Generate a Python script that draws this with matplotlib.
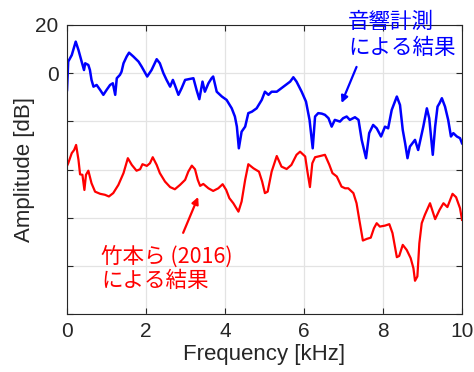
import matplotlib
matplotlib.use("Agg")
import matplotlib.pyplot as plt

plt.rcParams['font.family'] = ['Liberation Sans', 'DejaVu Sans']

# Blue: acoustic measurement result
blue_f = [0.0, 0.03, 0.12, 0.22, 0.29, 0.37, 0.43, 0.46, 0.54, 0.58, 0.62, 0.67, 0.75, 0.84, 0.92,
          1.0, 1.09, 1.16, 1.22, 1.26, 1.34, 1.38, 1.43, 1.51, 1.57, 1.68, 1.81, 1.89, 2.03, 2.14,
          2.27, 2.35, 2.44, 2.52, 2.61, 2.68, 2.73, 2.82, 2.90, 2.99, 3.11, 3.2, 3.28, 3.35, 3.43,
          3.49, 3.58, 3.66, 3.70, 3.79, 3.92, 4.04, 4.17, 4.25, 4.30, 4.35, 4.42, 4.51, 4.59, 4.68,
          4.80, 4.93, 5.01, 5.10, 5.18, 5.31, 5.48, 5.65, 5.73, 5.81, 5.94, 6.05, 6.14, 6.22, 6.28,
          6.36, 6.45, 6.53, 6.62, 6.70, 6.78, 6.91, 6.99, 7.08, 7.16, 7.29, 7.38, 7.46, 7.57, 7.65,
          7.75, 7.84, 7.95, 8.05, 8.13, 8.22, 8.35, 8.43, 8.50, 8.56, 8.62, 8.68, 8.81, 8.89, 9.02,
          9.11, 9.17, 9.26, 9.32, 9.38, 9.43, 9.49, 9.57, 9.65, 9.72, 9.78, 9.87, 9.95, 10.0]
blue_db = [-7.0, 4.8, 7.5, 13.1, 9.6, 4.8, 1.3, 4.1, 3.4, 1.3, -2.8, -5.6, -4.9, -7.0, -9.0,
           -7.0, -4.9, -4.2, -9.0, -2.1, -0.7, 0.6, 4.1, 6.9, 8.5, 6.9, 4.8, 2.7, -1.4, 1.3,
           5.8, 4.1, 0.0, -2.8, -5.6, -2.8, -4.9, -9.0, -6.3, -2.8, -2.4, -2.1, -7.0, -10.8, -3.5,
           -7.7, -4.2, -2.1, -1.4, -7.7, -9.7, -11.1, -14.6, -18.0, -22.2, -31.2, -24.3, -22.2, -16.6, -16.0,
           -14.6, -11.1, -7.7, -9.0, -7.7, -7.7, -5.6, -3.5, -1.7, -3.5, -7.7, -11.8, -19.4, -31.2, -18.0,
           -16.6, -16.8, -17.3, -18.7, -22.2, -19.4, -20.1, -18.7, -18.0, -19.4, -18.3, -19.4, -27.7, -35.3, -24.9,
           -21.5, -22.9, -26.3, -22.2, -22.9, -15.3, -9.7, -13.2, -23.6, -29.1, -35.3, -30.5, -27.7, -31.9, -22.2,
           -14.6, -18.7, -33.9, -22.2, -13.9, -12.5, -10.4, -13.9, -19.4, -26.3, -24.9, -26.3, -27.0, -29.1]

# Red: Takemoto et al. (2016)
red_f = [0.0, 0.03, 0.12, 0.18, 0.23, 0.29, 0.33, 0.39, 0.44, 0.48, 0.54, 0.62, 0.71, 0.84, 0.96,
         1.06, 1.17, 1.30, 1.43, 1.54, 1.64, 1.76, 1.85, 1.91, 2.02, 2.10, 2.17, 2.27, 2.35, 2.48,
         2.61, 2.73, 2.86, 2.99, 3.07, 3.16, 3.24, 3.31, 3.37, 3.45, 3.58, 3.70, 3.83, 3.94, 4.03,
         4.11, 4.21, 4.34, 4.42, 4.51, 4.59, 4.72, 4.86, 4.94, 5.01, 5.08, 5.18, 5.31, 5.43, 5.56,
         5.68, 5.81, 5.90, 6.03, 6.08, 6.15, 6.21, 6.28, 6.41, 6.53, 6.64, 6.72, 6.83, 6.95, 7.04,
         7.12, 7.25, 7.33, 7.40, 7.49, 7.59, 7.69, 7.77, 7.84, 7.92, 8.05, 8.16, 8.24, 8.35, 8.41,
         8.50, 8.60, 8.70, 8.77, 8.81, 8.87, 8.92, 8.98, 9.06, 9.19, 9.32, 9.43, 9.53, 9.63, 9.76,
         9.85, 9.95, 10.0]
red_db = [-38.5, -37.4, -33.2, -31.9, -29.8, -36.0, -42.0, -42.2, -48.5, -42.2, -40.5, -45.7, -49.2, -50.1, -50.5,
          -51.2, -49.8, -46.4, -41.5, -35.3, -38.1, -40.5, -39.9, -37.8, -38.5, -37.4, -34.9, -38.1, -41.5, -45.0,
          -47.3, -48.2, -46.4, -44.3, -40.9, -38.4, -39.9, -44.3, -46.8, -46.0, -47.8, -48.9, -47.8, -46.1, -48.5,
          -51.9, -54.0, -57.5, -53.3, -44.3, -37.8, -39.5, -40.9, -45.0, -49.8, -49.2, -40.9, -34.4, -38.8, -39.8,
          -38.1, -33.9, -32.6, -34.6, -40.2, -47.3, -37.4, -34.9, -34.4, -33.9, -38.0, -41.5, -42.9, -47.1, -47.8,
          -47.8, -49.8, -54.0, -60.9, -69.5, -68.8, -68.3, -64.4, -62.3, -63.7, -63.3, -62.7, -66.4, -76.4, -75.9,
          -71.3, -73.4, -76.8, -81.0, -86.2, -84.4, -70.6, -62.3, -58.8, -54.0, -60.6, -56.8, -54.0, -55.6, -50.1,
          -51.5, -56.1, -60.9]

x_ticks = [0, 2, 4, 6, 8, 10]
y_ticks = [-100, -80, -60, -40, -20, 0, 20]
y_tick_labels = ['', '', '', '', '', '0', '20']

fig = plt.figure(figsize=(4.74, 3.72), dpi=100)
ax = fig.add_axes([0.1414, 0.1559, 0.8333, 0.7769])

ax.plot(blue_f, blue_db, color='#0000ff', lw=1.8, solid_joinstyle='round')
ax.plot(red_f, red_db, color='#ff0000', lw=1.6, solid_joinstyle='round')

ax.set_xlim(0, 10)
ax.set_ylim(-100, 20)
ax.set_xticks(x_ticks)
ax.set_xticklabels([str(t) for t in x_ticks])
ax.set_yticks(y_ticks)
ax.set_yticklabels(y_tick_labels)
ax.grid(True, color='#e3e3e3', lw=0.9)
ax.set_axisbelow(True)
ax.tick_params(direction='in', length=4, width=0.8, colors='#262626', labelsize=15,
               top=True, right=True, pad=6)
for s in ax.spines.values():
    s.set_color('#262626')
    s.set_linewidth(0.8)

ax.set_xlabel('Frequency [kHz]', fontsize=16, color='#262626', labelpad=2)
ax.set_ylabel('Amplitude [dB]', fontsize=16, color='#262626', labelpad=0)

jp = ['Noto Sans CJK JP', 'DejaVu Sans']
ax.text(0.712, 0.966, '音響計測\nによる結果', transform=ax.transAxes, color='#0000ff',
        fontsize=15.5, family=jp, ha='left', va='center', linespacing=1.2)
ax.annotate('', xy=(6.95, -12.4), xytext=(7.33, 2.6),
            arrowprops=dict(arrowstyle='-|>', color='#0000ff', lw=1.6,
                            mutation_scale=10, shrinkA=0, shrinkB=0))

ax.text(0.087, 0.1557, '竹本ら (2016)\nによる結果', transform=ax.transAxes, color='#ff0000',
        fontsize=15.5, family=jp, ha='left', va='center', linespacing=1.1)
ax.annotate('', xy=(3.32, -51.4), xytext=(2.94, -66.3),
            arrowprops=dict(arrowstyle='-|>', color='#ff0000', lw=1.6,
                            mutation_scale=10, shrinkA=0, shrinkB=0))

fig.savefig('out.png', dpi=100)
